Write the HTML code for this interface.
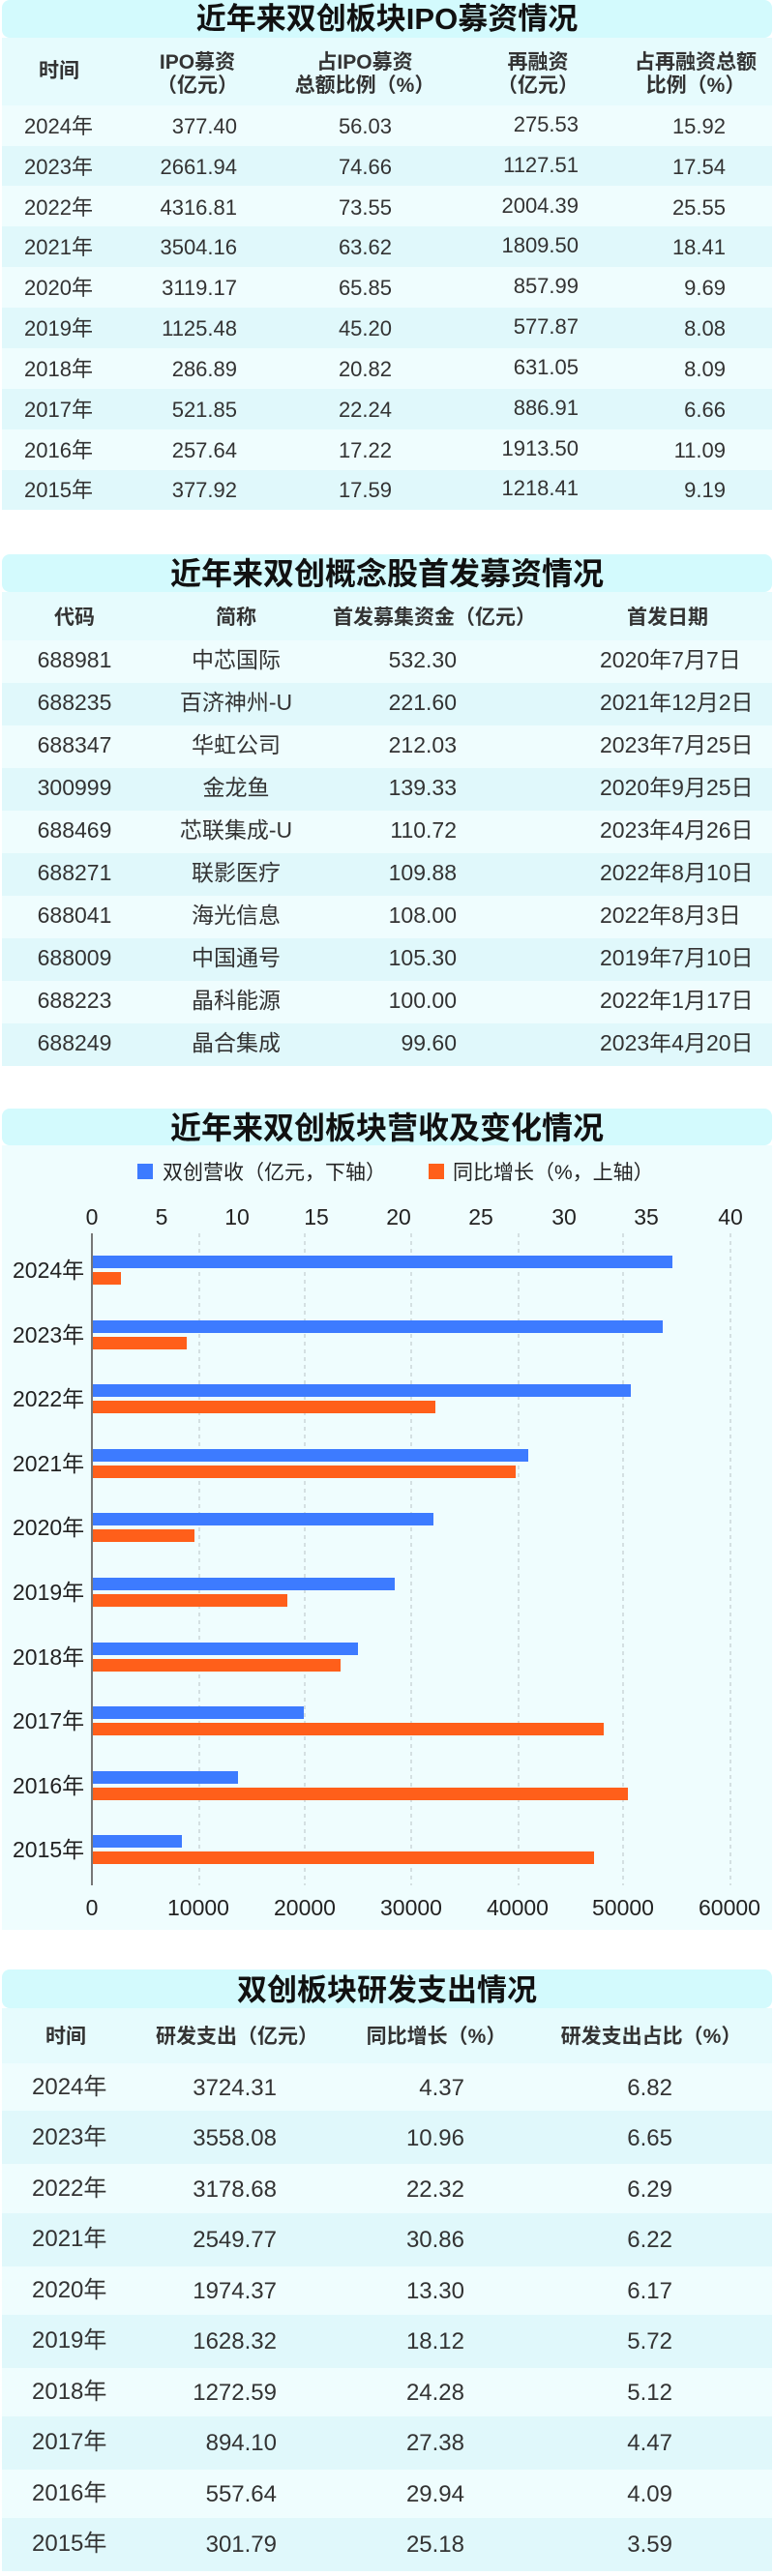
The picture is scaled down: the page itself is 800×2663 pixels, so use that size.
<!DOCTYPE html>
<html><head><meta charset="utf-8"><style>
html,body{margin:0;padding:0;background:#fff;}
svg{display:block;}
text{font-family:"Liberation Sans","Noto Sans CJK SC",sans-serif;fill:#222;}
.t{font-size:31px;font-weight:bold;fill:#111;}
.h{font-size:21px;font-weight:bold;fill:#333;}
.d{font-size:22px;fill:#333;}
.d2{font-size:23px;fill:#333;}
.d4{font-size:24px;fill:#333;}
.ax{font-size:23px;fill:#222;}
.lg{font-size:21px;fill:#222;}
</style></head><body>
<svg width="800" height="2663" viewBox="0 0 800 2663" xmlns="http://www.w3.org/2000/svg">
<rect width="800" height="2663" fill="#fff"/>

<!-- Section 1 -->
<rect x="2" y="0" width="796" height="39" rx="8" fill="#d3fafd"/>
<text class="t" x="400" y="30" text-anchor="middle">近年来双创板块IPO募资情况</text>
<rect x="2" y="39" width="796" height="70" fill="#e6fbfd"/>
<g class="h" text-anchor="middle">
<text class="h" x="61" y="80">时间</text>
<text class="h" x="204" y="71">IPO募资</text><text class="h" x="204" y="95">（亿元）</text>
<text class="h" x="377" y="71">占IPO募资</text><text class="h" x="377" y="95">总额比例（%）</text>
<text class="h" x="556" y="71">再融资</text><text class="h" x="556" y="95">（亿元）</text>
<text class="h" x="719" y="71">占再融资总额</text><text class="h" x="719" y="95">比例（%）</text>
</g>
<g>
<rect x="2" y="109" width="796" height="42" fill="#effdfe"/>
<rect x="2" y="151" width="796" height="41" fill="#e0f8fb"/>
<rect x="2" y="192" width="796" height="42" fill="#effdfe"/>
<rect x="2" y="234" width="796" height="42" fill="#e0f8fb"/>
<rect x="2" y="276" width="796" height="42" fill="#effdfe"/>
<rect x="2" y="318" width="796" height="42" fill="#e0f8fb"/>
<rect x="2" y="360" width="796" height="42" fill="#effdfe"/>
<rect x="2" y="402" width="796" height="42" fill="#e0f8fb"/>
<rect x="2" y="444" width="796" height="42" fill="#effdfe"/>
<rect x="2" y="486" width="796" height="41" fill="#e0f8fb"/>
</g>
<g class="d">
<text class="d" x="25" y="138">2024年</text><text class="d" x="245" y="138" text-anchor="end">377.40</text><text class="d" x="405" y="138" text-anchor="end">56.03</text><text class="d" x="598" y="136" text-anchor="end">275.53</text><text class="d" x="750" y="138" text-anchor="end">15.92</text>
<text class="d" x="25" y="180">2023年</text><text class="d" x="245" y="180" text-anchor="end">2661.94</text><text class="d" x="405" y="180" text-anchor="end">74.66</text><text class="d" x="598" y="178" text-anchor="end">1127.51</text><text class="d" x="750" y="180" text-anchor="end">17.54</text>
<text class="d" x="25" y="222">2022年</text><text class="d" x="245" y="222" text-anchor="end">4316.81</text><text class="d" x="405" y="222" text-anchor="end">73.55</text><text class="d" x="598" y="220" text-anchor="end">2004.39</text><text class="d" x="750" y="222" text-anchor="end">25.55</text>
<text class="d" x="25" y="263">2021年</text><text class="d" x="245" y="263" text-anchor="end">3504.16</text><text class="d" x="405" y="263" text-anchor="end">63.62</text><text class="d" x="598" y="261" text-anchor="end">1809.50</text><text class="d" x="750" y="263" text-anchor="end">18.41</text>
<text class="d" x="25" y="305">2020年</text><text class="d" x="245" y="305" text-anchor="end">3119.17</text><text class="d" x="405" y="305" text-anchor="end">65.85</text><text class="d" x="598" y="303" text-anchor="end">857.99</text><text class="d" x="750" y="305" text-anchor="end">9.69</text>
<text class="d" x="25" y="347">2019年</text><text class="d" x="245" y="347" text-anchor="end">1125.48</text><text class="d" x="405" y="347" text-anchor="end">45.20</text><text class="d" x="598" y="345" text-anchor="end">577.87</text><text class="d" x="750" y="347" text-anchor="end">8.08</text>
<text class="d" x="25" y="389">2018年</text><text class="d" x="245" y="389" text-anchor="end">286.89</text><text class="d" x="405" y="389" text-anchor="end">20.82</text><text class="d" x="598" y="387" text-anchor="end">631.05</text><text class="d" x="750" y="389" text-anchor="end">8.09</text>
<text class="d" x="25" y="431">2017年</text><text class="d" x="245" y="431" text-anchor="end">521.85</text><text class="d" x="405" y="431" text-anchor="end">22.24</text><text class="d" x="598" y="429" text-anchor="end">886.91</text><text class="d" x="750" y="431" text-anchor="end">6.66</text>
<text class="d" x="25" y="473">2016年</text><text class="d" x="245" y="473" text-anchor="end">257.64</text><text class="d" x="405" y="473" text-anchor="end">17.22</text><text class="d" x="598" y="471" text-anchor="end">1913.50</text><text class="d" x="750" y="473" text-anchor="end">11.09</text>
<text class="d" x="25" y="514">2015年</text><text class="d" x="245" y="514" text-anchor="end">377.92</text><text class="d" x="405" y="514" text-anchor="end">17.59</text><text class="d" x="598" y="512" text-anchor="end">1218.41</text><text class="d" x="750" y="514" text-anchor="end">9.19</text>
</g>

<!-- Section 2 -->
<rect x="2" y="573" width="796" height="39" rx="8" fill="#d3fafd"/>
<text class="t" x="400" y="604" text-anchor="middle" style="font-size:32px">近年来双创概念股首发募资情况</text>
<rect x="2" y="612" width="796" height="50" fill="#e6fbfd"/>
<text class="h" x="77" y="645" text-anchor="middle">代码</text>
<text class="h" x="244" y="645" text-anchor="middle">简称</text>
<text class="h" x="449" y="645" text-anchor="middle">首发募集资金（亿元）</text>
<text class="h" x="690" y="645" text-anchor="middle">首发日期</text>
<g>
<rect x="2" y="662" width="796" height="44" fill="#effdfe"/>
<rect x="2" y="706" width="796" height="44" fill="#e0f8fb"/>
<rect x="2" y="750" width="796" height="44" fill="#effdfe"/>
<rect x="2" y="794" width="796" height="44" fill="#e0f8fb"/>
<rect x="2" y="838" width="796" height="44" fill="#effdfe"/>
<rect x="2" y="882" width="796" height="44" fill="#e0f8fb"/>
<rect x="2" y="926" width="796" height="44" fill="#effdfe"/>
<rect x="2" y="970" width="796" height="44" fill="#e0f8fb"/>
<rect x="2" y="1014" width="796" height="44" fill="#effdfe"/>
<rect x="2" y="1058" width="796" height="44" fill="#e0f8fb"/>
</g>
<g>
<text class="d2" x="77" y="690" text-anchor="middle">688981</text><text class="d2" x="244" y="690" text-anchor="middle">中芯国际</text><text class="d2" x="472" y="690" text-anchor="end">532.30</text><text class="d2" x="620" y="690">2020年7月7日</text>
<text class="d2" x="77" y="734" text-anchor="middle">688235</text><text class="d2" x="244" y="734" text-anchor="middle">百济神州-U</text><text class="d2" x="472" y="734" text-anchor="end">221.60</text><text class="d2" x="620" y="734">2021年12月2日</text>
<text class="d2" x="77" y="778" text-anchor="middle">688347</text><text class="d2" x="244" y="778" text-anchor="middle">华虹公司</text><text class="d2" x="472" y="778" text-anchor="end">212.03</text><text class="d2" x="620" y="778">2023年7月25日</text>
<text class="d2" x="77" y="822" text-anchor="middle">300999</text><text class="d2" x="244" y="822" text-anchor="middle">金龙鱼</text><text class="d2" x="472" y="822" text-anchor="end">139.33</text><text class="d2" x="620" y="822">2020年9月25日</text>
<text class="d2" x="77" y="866" text-anchor="middle">688469</text><text class="d2" x="244" y="866" text-anchor="middle">芯联集成-U</text><text class="d2" x="472" y="866" text-anchor="end">110.72</text><text class="d2" x="620" y="866">2023年4月26日</text>
<text class="d2" x="77" y="910" text-anchor="middle">688271</text><text class="d2" x="244" y="910" text-anchor="middle">联影医疗</text><text class="d2" x="472" y="910" text-anchor="end">109.88</text><text class="d2" x="620" y="910">2022年8月10日</text>
<text class="d2" x="77" y="954" text-anchor="middle">688041</text><text class="d2" x="244" y="954" text-anchor="middle">海光信息</text><text class="d2" x="472" y="954" text-anchor="end">108.00</text><text class="d2" x="620" y="954">2022年8月3日</text>
<text class="d2" x="77" y="998" text-anchor="middle">688009</text><text class="d2" x="244" y="998" text-anchor="middle">中国通号</text><text class="d2" x="472" y="998" text-anchor="end">105.30</text><text class="d2" x="620" y="998">2019年7月10日</text>
<text class="d2" x="77" y="1042" text-anchor="middle">688223</text><text class="d2" x="244" y="1042" text-anchor="middle">晶科能源</text><text class="d2" x="472" y="1042" text-anchor="end">100.00</text><text class="d2" x="620" y="1042">2022年1月17日</text>
<text class="d2" x="77" y="1086" text-anchor="middle">688249</text><text class="d2" x="244" y="1086" text-anchor="middle">晶合集成</text><text class="d2" x="472" y="1086" text-anchor="end">99.60</text><text class="d2" x="620" y="1086">2023年4月20日</text>
</g>

<!-- Section 3 chart -->
<rect x="2" y="1184" width="796" height="811" fill="#effdfe"/>
<rect x="2" y="1146" width="796" height="38" rx="8" fill="#d3fafd"/>
<text class="t" x="400" y="1177" text-anchor="middle" style="font-size:32px">近年来双创板块营收及变化情况</text>
<rect x="142" y="1203" width="16" height="16" fill="#3d7bff"/>
<text class="lg" x="168" y="1219">双创营收（亿元，下轴）</text>
<rect x="443" y="1203" width="16" height="16" fill="#ff5f1a"/>
<text class="lg" x="468" y="1219">同比增长（%，上轴）</text>
<g class="ax" text-anchor="middle">
<text class="ax" x="95" y="1266">0</text><text class="ax" x="167" y="1266">5</text><text class="ax" x="245" y="1266">10</text><text class="ax" x="327" y="1266">15</text><text class="ax" x="412" y="1266">20</text><text class="ax" x="497" y="1266">25</text><text class="ax" x="583" y="1266">30</text><text class="ax" x="668" y="1266">35</text><text class="ax" x="755" y="1266">40</text>
</g>
<g stroke="#b8c4c6" stroke-width="1" stroke-dasharray="4,4">
<line x1="206" y1="1275" x2="206" y2="1949"/><line x1="315" y1="1275" x2="315" y2="1949"/><line x1="425" y1="1275" x2="425" y2="1949"/><line x1="536" y1="1275" x2="536" y2="1949"/><line x1="644" y1="1275" x2="644" y2="1949"/><line x1="755" y1="1275" x2="755" y2="1949"/>
</g>
<g>
<rect x="96" y="1298" width="599" height="13" fill="#3d7bff"/><rect x="96" y="1315" width="29" height="13" fill="#ff5f1a"/>
<rect x="96" y="1365" width="589" height="13" fill="#3d7bff"/><rect x="96" y="1382" width="97" height="13" fill="#ff5f1a"/>
<rect x="96" y="1431" width="556" height="13" fill="#3d7bff"/><rect x="96" y="1448" width="354" height="13" fill="#ff5f1a"/>
<rect x="96" y="1498" width="450" height="13" fill="#3d7bff"/><rect x="96" y="1515" width="437" height="13" fill="#ff5f1a"/>
<rect x="96" y="1564" width="352" height="13" fill="#3d7bff"/><rect x="96" y="1581" width="105" height="13" fill="#ff5f1a"/>
<rect x="96" y="1631" width="312" height="13" fill="#3d7bff"/><rect x="96" y="1648" width="201" height="13" fill="#ff5f1a"/>
<rect x="96" y="1698" width="274" height="13" fill="#3d7bff"/><rect x="96" y="1715" width="256" height="13" fill="#ff5f1a"/>
<rect x="96" y="1764" width="218" height="13" fill="#3d7bff"/><rect x="96" y="1781" width="528" height="13" fill="#ff5f1a"/>
<rect x="96" y="1831" width="150" height="13" fill="#3d7bff"/><rect x="96" y="1848" width="553" height="13" fill="#ff5f1a"/>
<rect x="96" y="1897" width="92" height="13" fill="#3d7bff"/><rect x="96" y="1914" width="518" height="13" fill="#ff5f1a"/>
</g>
<line x1="95" y1="1275" x2="95" y2="1949" stroke="#777" stroke-width="2"/>
<g>
<text class="ax" x="13" y="1321">2024年</text>
<text class="ax" x="13" y="1388">2023年</text>
<text class="ax" x="13" y="1454">2022年</text>
<text class="ax" x="13" y="1521">2021年</text>
<text class="ax" x="13" y="1587">2020年</text>
<text class="ax" x="13" y="1654">2019年</text>
<text class="ax" x="13" y="1721">2018年</text>
<text class="ax" x="13" y="1787">2017年</text>
<text class="ax" x="13" y="1854">2016年</text>
<text class="ax" x="13" y="1920">2015年</text>
</g>
<g text-anchor="middle">
<text class="ax" x="95" y="1980" text-anchor="middle">0</text><text class="ax" x="205" y="1980" text-anchor="middle">10000</text><text class="ax" x="315" y="1980" text-anchor="middle">20000</text><text class="ax" x="425" y="1980" text-anchor="middle">30000</text><text class="ax" x="535" y="1980" text-anchor="middle">40000</text><text class="ax" x="644" y="1980" text-anchor="middle">50000</text><text class="ax" x="754" y="1980" text-anchor="middle">60000</text>
</g>

<!-- Section 4 -->
<rect x="2" y="2036" width="796" height="40" rx="8" fill="#d3fafd"/>
<text class="t" x="400" y="2068" text-anchor="middle">双创板块研发支出情况</text>
<rect x="2" y="2076" width="796" height="57" fill="#e6fbfd"/>
<text class="h" x="68" y="2112" text-anchor="middle">时间</text>
<text class="h" x="245" y="2112" text-anchor="middle">研发支出（亿元）</text>
<text class="h" x="451" y="2112" text-anchor="middle">同比增长（%）</text>
<text class="h" x="673" y="2112" text-anchor="middle">研发支出占比（%）</text>
<g>
<rect x="2" y="2133" width="796" height="49" fill="#effdfe"/>
<rect x="2" y="2182" width="796" height="55" fill="#e0f8fb"/>
<rect x="2" y="2237" width="796" height="51" fill="#effdfe"/>
<rect x="2" y="2288" width="796" height="55" fill="#e0f8fb"/>
<rect x="2" y="2343" width="796" height="50" fill="#effdfe"/>
<rect x="2" y="2393" width="796" height="55" fill="#e0f8fb"/>
<rect x="2" y="2448" width="796" height="50" fill="#effdfe"/>
<rect x="2" y="2498" width="796" height="55" fill="#e0f8fb"/>
<rect x="2" y="2553" width="796" height="50" fill="#effdfe"/>
<rect x="2" y="2603" width="796" height="55" fill="#e0f8fb"/>
</g>
<g>
<text class="d4" x="33" y="2165">2024年</text><text class="d4" x="286" y="2166" text-anchor="end">3724.31</text><text class="d4" x="480" y="2166" text-anchor="end">4.37</text><text class="d4" x="695" y="2166" text-anchor="end">6.82</text>
<text class="d4" x="33" y="2217">2023年</text><text class="d4" x="286" y="2218" text-anchor="end">3558.08</text><text class="d4" x="480" y="2218" text-anchor="end">10.96</text><text class="d4" x="695" y="2218" text-anchor="end">6.65</text>
<text class="d4" x="33" y="2270">2022年</text><text class="d4" x="286" y="2271" text-anchor="end">3178.68</text><text class="d4" x="480" y="2271" text-anchor="end">22.32</text><text class="d4" x="695" y="2271" text-anchor="end">6.29</text>
<text class="d4" x="33" y="2322">2021年</text><text class="d4" x="286" y="2323" text-anchor="end">2549.77</text><text class="d4" x="480" y="2323" text-anchor="end">30.86</text><text class="d4" x="695" y="2323" text-anchor="end">6.22</text>
<text class="d4" x="33" y="2375">2020年</text><text class="d4" x="286" y="2376" text-anchor="end">1974.37</text><text class="d4" x="480" y="2376" text-anchor="end">13.30</text><text class="d4" x="695" y="2376" text-anchor="end">6.17</text>
<text class="d4" x="33" y="2427">2019年</text><text class="d4" x="286" y="2428" text-anchor="end">1628.32</text><text class="d4" x="480" y="2428" text-anchor="end">18.12</text><text class="d4" x="695" y="2428" text-anchor="end">5.72</text>
<text class="d4" x="33" y="2480">2018年</text><text class="d4" x="286" y="2481" text-anchor="end">1272.59</text><text class="d4" x="480" y="2481" text-anchor="end">24.28</text><text class="d4" x="695" y="2481" text-anchor="end">5.12</text>
<text class="d4" x="33" y="2532">2017年</text><text class="d4" x="286" y="2533" text-anchor="end">894.10</text><text class="d4" x="480" y="2533" text-anchor="end">27.38</text><text class="d4" x="695" y="2533" text-anchor="end">4.47</text>
<text class="d4" x="33" y="2585">2016年</text><text class="d4" x="286" y="2586" text-anchor="end">557.64</text><text class="d4" x="480" y="2586" text-anchor="end">29.94</text><text class="d4" x="695" y="2586" text-anchor="end">4.09</text>
<text class="d4" x="33" y="2637">2015年</text><text class="d4" x="286" y="2638" text-anchor="end">301.79</text><text class="d4" x="480" y="2638" text-anchor="end">25.18</text><text class="d4" x="695" y="2638" text-anchor="end">3.59</text>
</g>
</svg>
</body></html>
